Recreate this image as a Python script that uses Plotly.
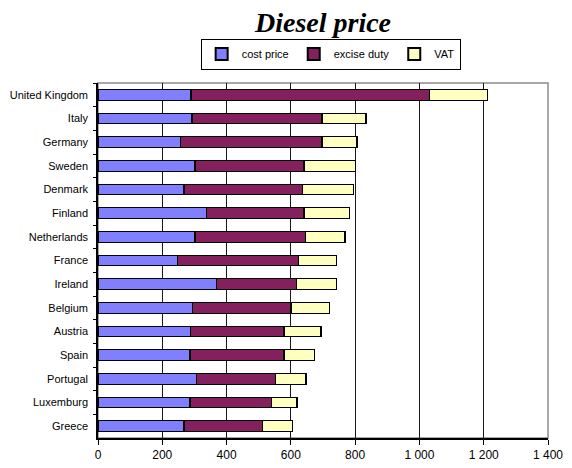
import plotly.graph_objects as go

countries = ["United Kingdom", "Italy", "Germany", "Sweden", "Denmark", "Finland",
             "Netherlands", "France", "Ireland", "Belgium", "Austria", "Spain",
             "Portugal", "Luxemburg", "Greece"]
cost_price = [289, 292, 256, 302, 268, 337, 302, 247, 369, 295, 288, 286, 307, 286, 268]
excise_duty = [743, 405, 441, 339, 368, 304, 343, 376, 248, 305, 291, 293, 246, 254, 244]
vat = [180, 137, 109, 160, 159, 141, 123, 119, 124, 120, 115, 94, 94, 79, 94]

x_ticks = [0, 200, 400, 600, 800, 1000, 1200, 1400]
x_labels = ["0", "200", "400", "600", "800", "1 000", "1 200", "1 400"]

series = [("cost price", cost_price, "#8080ff"),
          ("excise duty", excise_duty, "#85205f"),
          ("VAT", vat, "#ffffc0")]

fig = go.Figure()
for name, vals, col in series:
    fig.add_trace(go.Bar(y=countries, x=vals, name=name, orientation="h",
                         marker=dict(color=col, line=dict(color="#000000", width=1.3))))

fig.update_layout(
    barmode="stack",
    bargap=0.55,
    width=572, height=468,
    margin=dict(l=98, r=24, t=83, b=30),
    paper_bgcolor="white", plot_bgcolor="white",
    font=dict(family="Liberation Sans, Arial", color="#000000"),
    title=dict(text="<b><i>Diesel price</i></b>", x=323 / 572, xanchor="center",
               y=1 - 22 / 468, yanchor="middle",
               font=dict(family="Liberation Serif, Times New Roman", size=28, color="#000")),
    legend=dict(orientation="h", x=0.517, xanchor="center", y=1 + 29 / 355, yanchor="middle",
                bordercolor="#000000", borderwidth=1, bgcolor="white",
                font=dict(size=11), itemwidth=30,
                traceorder="normal", itemsizing="constant"),
    shapes=[dict(type="rect", xref="paper", yref="paper", x0=0, x1=1, y0=0, y1=1,
                 line=dict(color="#8c8c8c", width=1.5), layer="below")],
)
fig.update_xaxes(range=[0, 1400], tickvals=x_ticks, ticktext=x_labels,
                 showgrid=True, gridcolor="#1a1a1a", gridwidth=1,
                 showline=True, linecolor="#000000", linewidth=1.5,
                 ticks="outside", ticklen=5, tickcolor="#000", tickfont=dict(size=12),
                 zeroline=False, fixedrange=True, automargin=False)
fig.update_yaxes(autorange="reversed", showline=True, linecolor="#000000", linewidth=1.5,
                 ticks="outside", ticklen=3, tickcolor="#000", tickson="boundaries",
                 ticklabelstandoff=6, automargin=False,
                 tickfont=dict(size=11), showgrid=False, fixedrange=True)

fig.write_html("out.html")
